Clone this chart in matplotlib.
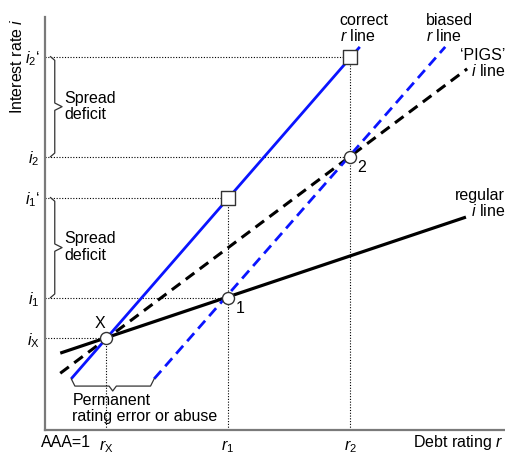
import matplotlib
matplotlib.use("Agg")
import matplotlib.pyplot as plt
import numpy as np

plt.rcParams['font.family'] = ['Liberation Sans', 'DejaVu Sans']
plt.rcParams['mathtext.fontset'] = 'custom'
plt.rcParams['mathtext.it'] = 'Liberation Sans:italic'
plt.rcParams['mathtext.rm'] = 'Liberation Sans'

# key ratings and interest rates (arbitrary units)
r_vals = [1.0, 3.0, 5.0]                 # r_X, r_1, r_2
r_labels = [r"$r_{\rm X}$", r"$r_1$", r"$r_2$"]
i_vals = [1.5, 2.17, 3.81, 4.48, 6.12]  # i_X, i_1, i_1', i_2, i_2'
i_labels = [r"$i_{\rm X}$", r"$i_1$", r"$i_1$‘", r"$i_2$", r"$i_2$‘"]

# line end points
regular_x = [0.25, 6.90]
regular_y = [1.26, 3.49]
pigs_x = [0.25, 6.92]
pigs_y = [0.93, 5.92]
correct_x = [0.43, 5.16]
correct_y = [0.84, 6.28]
biased_x = [1.79, 6.56]
biased_y = [0.84, 6.28]

# marked points
circle_x = [1.0, 3.0, 5.0]
circle_y = [1.5, 2.17, 4.48]
circle_names = ["X", "1", "2"]
square_x = [3.0, 5.0]
square_y = [3.81, 6.12]

fig = plt.figure(figsize=(5.06, 4.55), dpi=100)
ax = fig.add_axes([45 / 506, 25 / 455, 460 / 506, 413 / 455])
ax.set_xlim(0, 7.54)
ax.set_ylim(0, 6.77)
for s in ['top', 'right']:
    ax.spines[s].set_visible(False)
for s in ['left', 'bottom']:
    ax.spines[s].set_color('#7a7a7a')
    ax.spines[s].set_linewidth(1.6)

dot = dict(color='black', lw=0.8, linestyle=(0, (1, 1.5)))
# guide lines
ax.plot([0, circle_x[0]], [circle_y[0]] * 2, **dot)
ax.plot([circle_x[0]] * 2, [0, circle_y[0]], **dot)
ax.plot([0, circle_x[1]], [circle_y[1]] * 2, **dot)
ax.plot([0, square_x[0]], [square_y[0]] * 2, **dot)
ax.plot([square_x[0]] * 2, [0, square_y[0]], **dot)
ax.plot([0, circle_x[2]], [circle_y[2]] * 2, **dot)
ax.plot([0, square_x[1]], [square_y[1]] * 2, **dot)
ax.plot([square_x[1]] * 2, [0, square_y[1]], **dot)

# lines
ax.plot(regular_x, regular_y, color='black', lw=2.3, solid_capstyle='butt')
ax.plot(pigs_x, pigs_y, color='black', lw=2.2, dashes=(3.5, 2.2))
ax.plot(correct_x, correct_y, color='#0a14ff', lw=2.0, solid_capstyle='butt')
ax.plot(biased_x, biased_y, color='#0a14ff', lw=2.0, dashes=(3.8, 2.2))

ax.scatter(circle_x, circle_y, s=75, marker='o', facecolor='white',
           edgecolor='#333333', linewidth=1.0, zorder=5)
ax.scatter(square_x, square_y, s=100, marker='s', facecolor='white',
           edgecolor='#333333', linewidth=1.0, zorder=5)

ax.text(circle_x[0] - 0.1, circle_y[0] + 0.13, circle_names[0], fontsize=11.5,
        ha='center', va='bottom')
ax.text(circle_x[1] + 0.12, circle_y[1] - 0.05, circle_names[1], fontsize=11.5,
        ha='left', va='top')
ax.text(circle_x[2] + 0.12, circle_y[2] - 0.05, circle_names[2], fontsize=11.5,
        ha='left', va='top')


def brace_v(x, y0, y1, w, tip):
    d = 0.06
    ym = (y0 + y1) / 2
    xs = [x - w, x, x, x + tip, x, x, x - w]
    ys = [y1, y1 - d, ym + d, ym, ym - d, y0 + d, y0]
    ax.plot(xs, ys, color='#333333', lw=0.9, clip_on=False)


def brace_h(y, x0, x1, h, tip):
    d = 0.06
    xm = (x0 + x1) / 2
    xs = [x0, x0 + d, xm - d, xm, xm + d, x1 - d, x1]
    ys = [y + h, y, y, y - tip, y, y, y + h]
    ax.plot(xs, ys, color='#333333', lw=0.9)


brace_v(0.16, i_vals[3], i_vals[4], 0.07, 0.12)
brace_v(0.16, i_vals[1], i_vals[2], 0.07, 0.12)
brace_h(0.72, correct_x[0], biased_x[0], 0.12, 0.08)

fs = 11.5
ax.text(0.31, 5.30, "Spread\ndeficit", fontsize=fs, ha='left', va='center',
        linespacing=1.1)
ax.text(0.31, 3.00, "Spread\ndeficit", fontsize=fs, ha='left', va='center',
        linespacing=1.1)
ax.text(0.45, 0.35, "Permanent\nrating error or abuse", fontsize=fs,
        ha='left', va='center', linespacing=1.1)
ax.text(4.83, 6.58, "correct\n$r$ line", fontsize=fs, ha='left', va='center',
        linespacing=1.0)
ax.text(6.25, 6.58, "biased\n$r$ line", fontsize=fs, ha='left', va='center',
        linespacing=1.0)
ax.text(7.54, 6.0, "‘PIGS’\n$i$ line", fontsize=fs, ha='right', va='center',
        linespacing=1.0)
ax.text(7.54, 3.72, "regular\n$i$ line", fontsize=fs, ha='right', va='center',
        linespacing=1.0)

ax.set_xticks(r_vals, r_labels, fontsize=fs)
ax.set_yticks(i_vals, i_labels, fontsize=fs)
ax.tick_params(axis='both', length=0)
ax.tick_params(axis='x', pad=6)
ax.tick_params(axis='y', pad=4)

ax.text(-0.07, -0.21, "AAA=1", fontsize=fs, ha='left', va='center',
        transform=ax.transData, clip_on=False)
ax.text(7.52, -0.21, "Debt rating $r$", fontsize=fs, ha='right', va='center',
        clip_on=False)
fig.text(17 / 506, 1 - 66 / 455, "Interest rate $i$", fontsize=fs,
         rotation=90, ha='center', va='center')

fig.savefig("out.png", dpi=100)
